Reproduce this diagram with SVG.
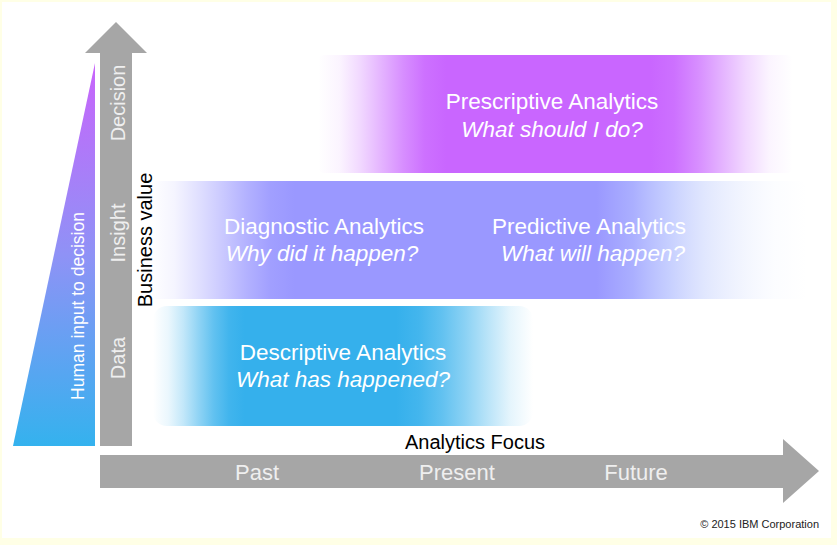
<svg xmlns="http://www.w3.org/2000/svg" width="837" height="545" viewBox="0 0 837 545">
<defs>
<style>
.t{font-family:"Liberation Sans",Arial,sans-serif;}
.w{fill:#ffffff;font-size:22.5px;text-anchor:middle;}
.wi{fill:#ffffff;font-size:22.5px;text-anchor:middle;font-style:italic;}
.g{fill:#efefef;font-size:20px;text-anchor:middle;}
.gx{fill:#efefef;font-size:22px;text-anchor:middle;}
.k{fill:#000000;font-size:20px;text-anchor:middle;}
.arrow{fill:#a6a6a6;}
</style>
<linearGradient id="triG" x1="0" y1="63" x2="0" y2="446" gradientUnits="userSpaceOnUse">
<stop offset="0" stop-color="#c964fb"/>
<stop offset="0.5" stop-color="#8f92f6"/>
<stop offset="1" stop-color="#34b2ee"/>
</linearGradient>
<linearGradient id="presG" x1="318" y1="0" x2="793" y2="0" gradientUnits="userSpaceOnUse">
<stop offset="0" stop-color="#c966ff" stop-opacity="0"/>
<stop offset="0.045" stop-color="#c966ff" stop-opacity="0.07"/>
<stop offset="0.09" stop-color="#c966ff" stop-opacity="0.26"/>
<stop offset="0.135" stop-color="#c966ff" stop-opacity="0.5"/>
<stop offset="0.18" stop-color="#c966ff" stop-opacity="0.74"/>
<stop offset="0.225" stop-color="#c966ff" stop-opacity="0.93"/>
<stop offset="0.27" stop-color="#c966ff" stop-opacity="1"/>
<stop offset="0.7" stop-color="#c966ff" stop-opacity="1"/>
<stop offset="0.75" stop-color="#c966ff" stop-opacity="0.93"/>
<stop offset="0.8" stop-color="#c966ff" stop-opacity="0.74"/>
<stop offset="0.85" stop-color="#c966ff" stop-opacity="0.5"/>
<stop offset="0.9" stop-color="#c966ff" stop-opacity="0.26"/>
<stop offset="0.95" stop-color="#c966ff" stop-opacity="0.07"/>
<stop offset="1" stop-color="#c966ff" stop-opacity="0"/>
</linearGradient>
<linearGradient id="midG" x1="150" y1="0" x2="807" y2="0" gradientUnits="userSpaceOnUse">
<stop offset="0" stop-color="#9a98ff" stop-opacity="0"/>
<stop offset="0.037" stop-color="#9a98ff" stop-opacity="0.1"/>
<stop offset="0.073" stop-color="#9a98ff" stop-opacity="0.3"/>
<stop offset="0.11" stop-color="#9a98ff" stop-opacity="0.52"/>
<stop offset="0.147" stop-color="#9a98ff" stop-opacity="0.75"/>
<stop offset="0.183" stop-color="#9a98ff" stop-opacity="0.93"/>
<stop offset="0.22" stop-color="#9a98ff" stop-opacity="1"/>
<stop offset="0.68" stop-color="#9a98ff" stop-opacity="1"/>
<stop offset="0.735" stop-color="#a1a6ff" stop-opacity="0.9"/>
<stop offset="0.79" stop-color="#b0bcff" stop-opacity="0.72"/>
<stop offset="0.845" stop-color="#c3cffd" stop-opacity="0.5"/>
<stop offset="0.9" stop-color="#d2dcfd" stop-opacity="0.3"/>
<stop offset="0.95" stop-color="#dde6ff" stop-opacity="0.1"/>
<stop offset="1" stop-color="#dde6ff" stop-opacity="0"/>
</linearGradient>
<linearGradient id="descG" x1="153" y1="0" x2="533" y2="0" gradientUnits="userSpaceOnUse">
<stop offset="0" stop-color="#35b0ec" stop-opacity="0"/>
<stop offset="0.04" stop-color="#35b0ec" stop-opacity="0.1"/>
<stop offset="0.08" stop-color="#35b0ec" stop-opacity="0.3"/>
<stop offset="0.12" stop-color="#35b0ec" stop-opacity="0.55"/>
<stop offset="0.16" stop-color="#35b0ec" stop-opacity="0.78"/>
<stop offset="0.2" stop-color="#35b0ec" stop-opacity="0.94"/>
<stop offset="0.24" stop-color="#35b0ec" stop-opacity="1"/>
<stop offset="0.64" stop-color="#35b0ec" stop-opacity="1"/>
<stop offset="0.7" stop-color="#35b0ec" stop-opacity="0.93"/>
<stop offset="0.76" stop-color="#35b0ec" stop-opacity="0.78"/>
<stop offset="0.82" stop-color="#35b0ec" stop-opacity="0.58"/>
<stop offset="0.88" stop-color="#35b0ec" stop-opacity="0.35"/>
<stop offset="0.94" stop-color="#35b0ec" stop-opacity="0.13"/>
<stop offset="1" stop-color="#35b0ec" stop-opacity="0"/>
</linearGradient>
</defs>
<rect x="0" y="0" width="837" height="545" fill="#ffffe6"/>
<rect x="2" y="2" width="829" height="536" fill="#ffffff"/>

<g id="human-input">
<polygon points="95,63 95,446 13,446" fill="url(#triG)"/>
<text class="t" fill="#ffffff" font-size="17.5" text-anchor="middle" transform="translate(84,306) rotate(-90)">Human input to decision</text>
</g>

<g id="business-value-axis">
<polygon class="arrow" points="100,446 100,53 85,53 116,22 147,53 132,53 132,446"/>
<text class="t g" transform="translate(125,103) rotate(-90)">Decision</text>
<text class="t g" transform="translate(125,233) rotate(-90)">Insight</text>
<text class="t g" transform="translate(125,358) rotate(-90)">Data</text>
<text class="t k" transform="translate(152,240) rotate(-90)">Business value</text>
</g>

<g id="analytics-focus-axis">
<polygon class="arrow" points="100,455 783,455 783,439 819,471 783,503 783,488 100,488"/>
<text class="t k" x="475" y="449">Analytics Focus</text>
<text class="t gx" x="257" y="480">Past</text>
<text class="t gx" x="457" y="480">Present</text>
<text class="t gx" x="636" y="480">Future</text>
</g>

<g id="prescriptive">
<rect x="318" y="55" width="475" height="118" rx="6" fill="url(#presG)"/>
<text class="t w" x="552" y="109">Prescriptive Analytics</text>
<text class="t wi" x="552" y="137">What should I do?</text>
</g>

<g id="diagnostic-predictive-band">
<rect x="150" y="181" width="657" height="118" rx="6" fill="url(#midG)"/>
</g>
<g id="diagnostic">
<text class="t w" x="324" y="234">Diagnostic Analytics</text>
<text class="t wi" x="322" y="261">Why did it happen?</text>
</g>
<g id="predictive">
<text class="t w" x="589" y="234">Predictive Analytics</text>
<text class="t wi" x="593" y="261">What will happen?</text>
</g>

<g id="descriptive">
<rect x="153" y="306" width="380" height="120" rx="14" fill="url(#descG)"/>
<text class="t w" x="343" y="360">Descriptive Analytics</text>
<text class="t wi" x="343" y="387">What has happened?</text>
</g>

<text class="t" x="819" y="528" font-size="11" fill="#222222" text-anchor="end">© 2015 IBM Corporation</text>
</svg>
